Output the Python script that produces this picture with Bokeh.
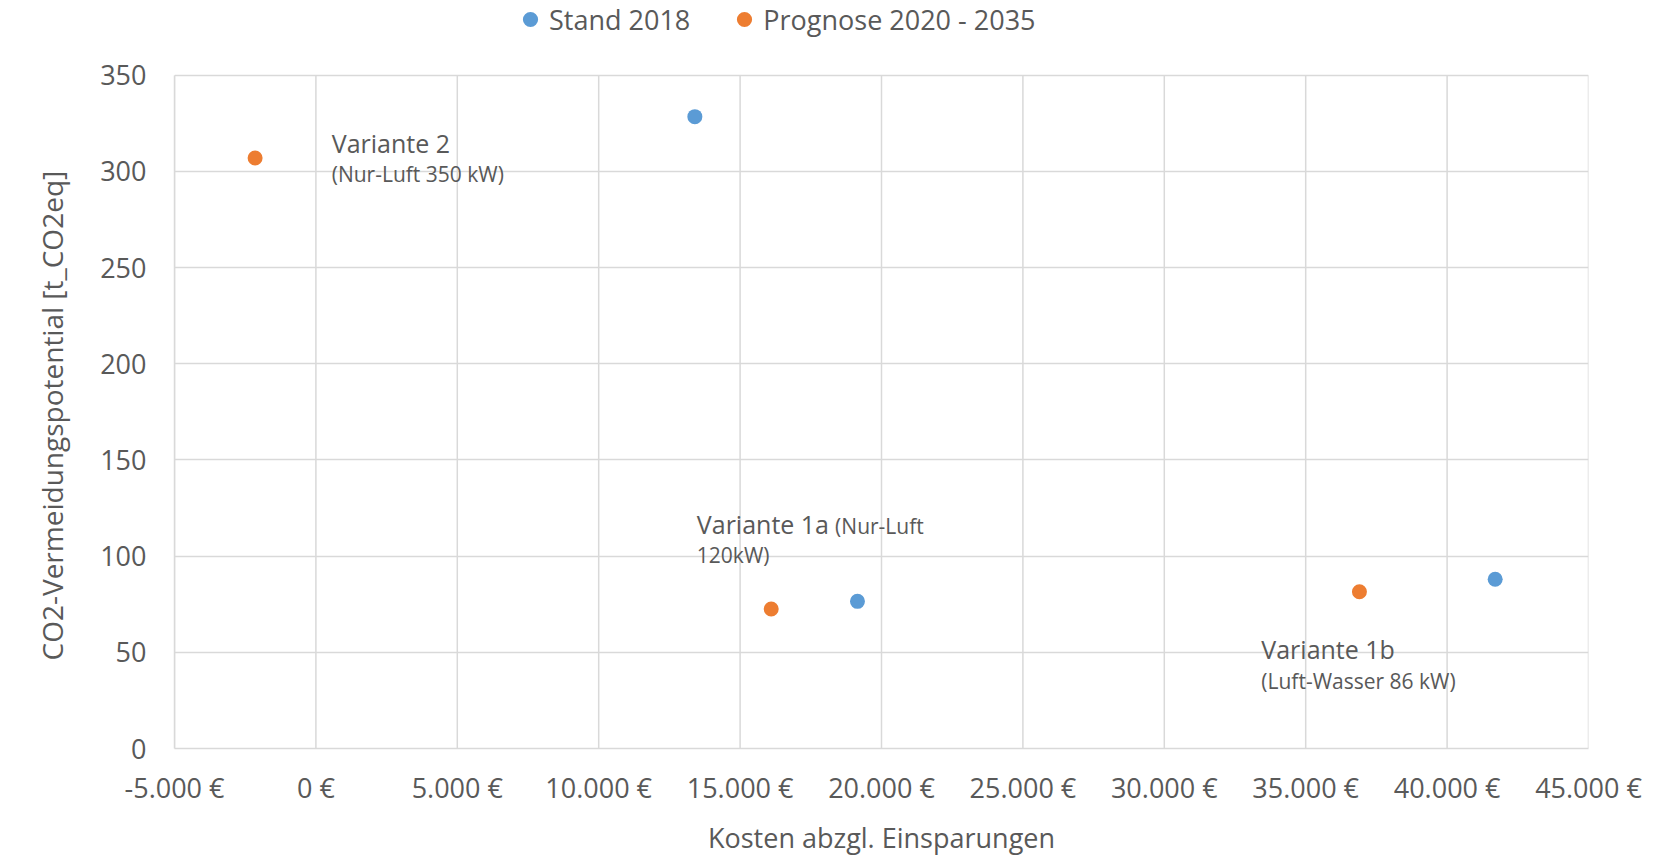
from bokeh.plotting import figure
from bokeh.models import (Legend, LegendItem, Label, FixedTicker, Title,
                          CustomJSTickFormatter, Range1d)
from bokeh.embed import file_html
from bokeh.resources import INLINE

# Data
series_names = ["Stand 2018", "Prognose 2020 - 2035"]
stand_cost = [13400, 19150, 41700]
stand_co2 = [328.5, 76.5, 88]
prog_cost = [-2150, 16100, 36900]
prog_co2 = [307, 72.5, 81.5]
x_ticks = list(range(-5000, 45001, 5000))
y_ticks = list(range(0, 351, 50))

FONT = "Open Sans"
TXT = "#595959"
GRID = "#d9d9d9"
BLUE = "#5B9BD5"
ORANGE = "#ED7D31"
BIG = "27px"

Y_MIN, Y_MAX = y_ticks[0], y_ticks[-1]
# frame extends above the data area to host the legend (data area = 675 of 750 px)
Y_TOP = Y_MAX * 750 / 675

p = figure(width=1654, height=858, output_backend="svg", toolbar_location=None,
           x_range=Range1d(x_ticks[0], x_ticks[-1]), y_range=Range1d(Y_MIN, Y_TOP),
           min_border_left=174, min_border_right=66, min_border_top=0, min_border_bottom=108)
p.outline_line_color = None
p.background_fill_color = "white"

# vertical grid lines limited to the data area
p.segment(x0=x_ticks, y0=[Y_MIN] * len(x_ticks), x1=x_ticks, y1=[Y_MAX] * len(x_ticks),
          line_color=GRID, line_width=1.5)
p.xgrid.visible = False
p.ygrid.grid_line_color = GRID
p.ygrid.grid_line_width = 1.5

s1 = p.scatter(stand_cost, stand_co2, size=15, color=BLUE, line_color=None)
s2 = p.scatter(prog_cost, prog_co2, size=15, color=ORANGE, line_color=None)

for ax in (p.xaxis[0], p.yaxis[0]):
    ax.axis_line_color = GRID
    ax.axis_line_width = 1.5
    ax.major_tick_line_color = None
    ax.minor_tick_line_color = None
    ax.major_tick_out = 0
    ax.major_label_text_color = TXT
    ax.major_label_text_font = FONT
    ax.major_label_text_font_size = BIG
    ax.axis_label_text_color = TXT
    ax.axis_label_text_font = FONT
    ax.axis_label_text_font_size = BIG
    ax.axis_label_text_font_style = "normal"

p.yaxis.bounds = (Y_MIN, Y_MAX)
p.xaxis.ticker = FixedTicker(ticks=x_ticks)
p.yaxis.ticker = FixedTicker(ticks=y_ticks)
p.xaxis.formatter = CustomJSTickFormatter(code=r"""
const s = Math.abs(tick).toFixed(0).replace(/\B(?=(\d{3})+(?!\d))/g, '.');
return (tick < 0 ? '-' : '') + s + ' €';
""")
p.xaxis.axis_label = "Kosten abzgl. Einsparungen"
p.xaxis.major_label_standoff = 20
p.xaxis.axis_label_standoff = 10
p.yaxis.major_label_standoff = 28

# y-axis title, centred on the data area (not on the taller frame)
p.add_layout(Title(text="CO2-Vermeidungspotential [t_CO2eq]", align="left", offset=88,
                   standoff=54, text_font=FONT, text_font_size="28px",
                   text_font_style="normal", text_color=TXT), "left")

legend = Legend(items=[LegendItem(label=series_names[0], renderers=[s1]),
                       LegendItem(label=series_names[1], renderers=[s2])],
                orientation="horizontal", location=(337, 710),
                label_text_font=FONT, label_text_font_size=BIG, label_text_color=TXT,
                glyph_width=38, glyph_height=38, label_standoff=0, spacing=35,
                border_line_color=None, background_fill_alpha=0, padding=0, margin=0)
p.add_layout(legend, "center")

def lab(x, y, t, size):
    p.add_layout(Label(x=x, y=y, text=t, text_font=FONT, text_font_size=size,
                       text_color=TXT, text_baseline="middle", text_align="left"))

lab(560, 315, "Variante 2", "25px")
lab(560, 298.5, "(Nur-Luft 350 kW)", "21px")
lab(13470, 116.5, "Variante 1a", "25px")
lab(18360, 115.5, "(Nur-Luft", "21px")
lab(13470, 100.5, "120kW)", "21px")
lab(33430, 51.5, "Variante 1b", "25px")
lab(33430, 35, "(Luft-Wasser 86 kW)", "21px")

open("out.html", "w").write(file_html(p, INLINE))
